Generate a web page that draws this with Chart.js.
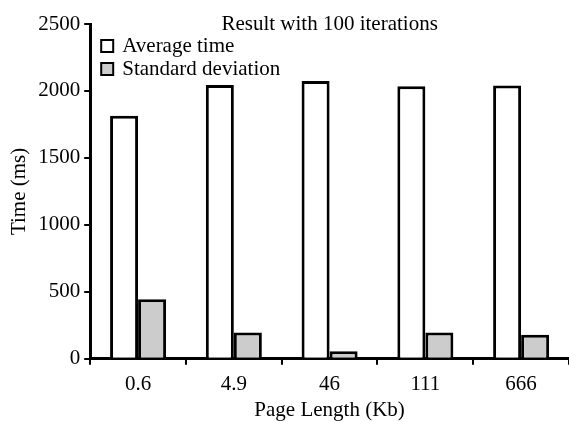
<!DOCTYPE html>
<html>
<head>
<meta charset="utf-8">
<script src="https://cdn.jsdelivr.net/npm/chart.js@4.4.0/dist/chart.umd.min.js"></script>
<style>
body { margin: 0; background: #fff; }
</style>
</head>
<body>
<canvas id="myChart" width="569" height="421"></canvas>
<script>
// Data
var pageLength = ['0.6', '4.9', '46', '111', '666'];
var avgTime = [1815, 2045, 2075, 2035, 2040];
var stdDev = [445, 196, 57, 196, 179];
var yTicks = [0, 500, 1000, 1500, 2000, 2500];

var font = '"Liberation Serif", "Times New Roman", serif';
var fs = 21;

// title and legend sit inside the plot area in the original
const insidePlugin = {
    id: 'inside',
    afterDraw(chart) {
        const ctx = chart.ctx;
        const area = chart.chartArea;
        ctx.save();
        ctx.font = fs + 'px ' + font;
        ctx.fillStyle = '#000';
        ctx.textAlign = 'center';
        ctx.textBaseline = 'middle';
        ctx.fillText('Result with 100 iterations', (area.left + area.right) / 2, area.top);
        ctx.textAlign = 'left';
        chart.data.datasets.forEach(function (ds, i) {
            const y = area.top + 22 + i * 23;
            ctx.fillStyle = ds.backgroundColor;
            ctx.fillRect(area.left + 11, y - 6, 12, 12);
            ctx.lineWidth = 2;
            ctx.strokeStyle = '#000';
            ctx.strokeRect(area.left + 11, y - 6, 12, 12);
            ctx.fillStyle = '#000';
            ctx.fillText(ds.label, area.left + 32, y);
        });
        ctx.restore();
    }
};

const data = {
    labels: pageLength,
    datasets: [{
        label: 'Average time',
        data: avgTime,
        backgroundColor: '#ffffff',
        borderColor: '#000',
        borderWidth: 3
    }, {
        label: 'Standard deviation',
        data: stdDev,
        backgroundColor: '#cccccc',
        borderColor: '#000',
        borderWidth: 3
    }]
};

const axisGrid = {
    display: true,
    drawOnChartArea: false,
    drawTicks: true,
    tickLength: 6,
    color: '#000',
    lineWidth: 2
};

const config = {
    type: 'bar',
    data: data,
    options: {
        responsive: false,
        animation: false,
        layout: { padding: { top: 24, right: 0, left: 5, bottom: 0 } },
        datasets: {
            bar: { categoryPercentage: 0.585, barPercentage: 1.0 }
        },
        plugins: {
            legend: { display: false },
            title: { display: false },
            tooltip: { enabled: false }
        },
        scales: {
            x: {
                grid: axisGrid,
                border: { display: true, color: '#000', width: 3 },
                ticks: { color: '#000', font: { family: font, size: fs }, padding: 7 },
                title: {
                    display: true, text: 'Page Length (Kb)', color: '#000',
                    font: { family: font, size: fs, lineHeight: 1 }, padding: { top: -4, bottom: 0 }
                }
            },
            y: {
                min: 0,
                max: 2500,
                afterBuildTicks: function (scale) {
                    scale.ticks = yTicks.map(function (v) { return { value: v }; });
                },
                grid: axisGrid,
                border: { display: true, color: '#000', width: 3 },
                ticks: {
                    color: '#000', font: { family: font, size: fs }, padding: 4,
                    callback: function (v) { return String(v); }
                },
                title: { display: true, text: 'Time (ms)', color: '#000', font: { family: font, size: fs }, padding: 2 }
            }
        }
    },
    plugins: [insidePlugin]
};

var myChart = new Chart(document.getElementById('myChart'), config);
</script>
</body>
</html>
